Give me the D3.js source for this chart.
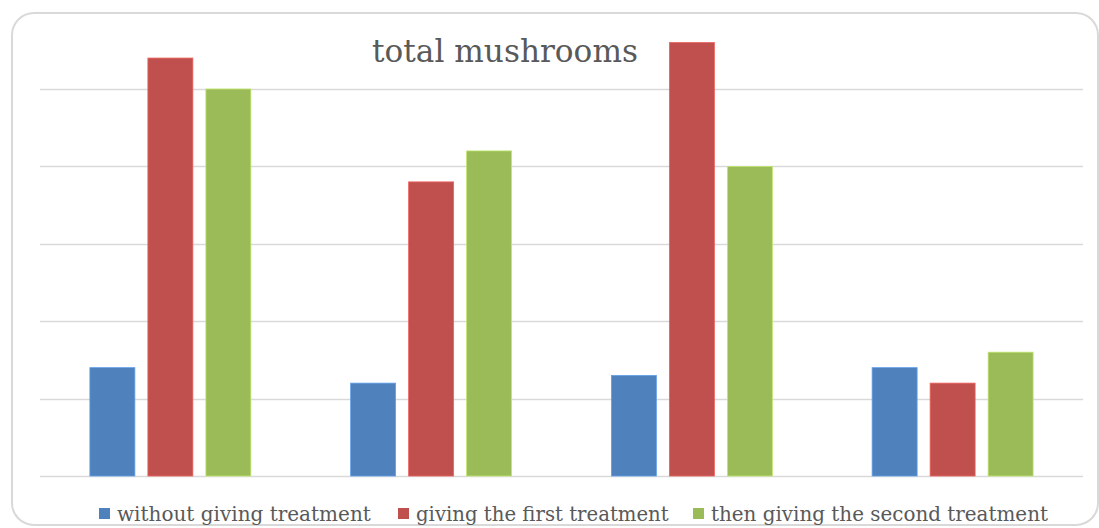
<!DOCTYPE html>
<html><head><meta charset="utf-8">
<script src="https://cdn.jsdelivr.net/npm/d3@7"></script>
<style>html,body{margin:0;padding:0;background:#fff;}svg{display:block;}</style>
</head><body>
<svg id="chart" width="1099" height="528"></svg>
<script>
const title = "total mushrooms";
const categories = ["A", "B", "C", "D"];
const seriesNames = ["without giving treatment", "giving the first treatment", "then giving the second treatment"];
const seriesColors = ["#4F81BD", "#C0504D", "#9BBB59"];
const withoutTreatment = [1.4, 1.2, 1.3, 1.4];
const firstTreatment = [5.4, 3.8, 5.6, 1.2];
const secondTreatment = [5.0, 4.2, 4.0, 1.6];
const gridTicks = [0, 1, 2, 3, 4, 5];

const series = [withoutTreatment, firstTreatment, secondTreatment];
const svg = d3.select("#chart");
const serif = "DejaVu Serif, Liberation Serif, serif";

// fit a text element's font size to a target width
function fitWidth(sel, target) {
  const w = sel.node().getComputedTextLength();
  const fs = parseFloat(sel.attr("font-size"));
  sel.attr("font-size", (fs * target / w).toFixed(2));
}

svg.append("rect").attr("x", 12).attr("y", 13).attr("width", 1098 - 12).attr("height", 525 - 13)
  .attr("rx", 22).attr("fill", "#fff").attr("stroke", "#d9d9d9").attr("stroke-width", 2);

const plotL = 40, plotR = 1083;
const x0 = d3.scaleBand().domain(categories).range([plotL, plotR]).paddingInner(0).paddingOuter(0);
const y = d3.scaleLinear().domain([0, 5]).range([476, 89]);

svg.append("g").selectAll("line").data(gridTicks).join("line")
  .attr("x1", plotL).attr("x2", plotR)
  .attr("y1", d => Math.round(y(d)) + 0.5).attr("y2", d => Math.round(y(d)) + 0.5)
  .attr("stroke", "#d9d9d9").attr("stroke-width", 1.5);

const barW = 45, gap = 13;
const groupW = 3 * barW + 2 * gap;
const x1 = d3.scaleBand().domain(d3.range(3)).range([0, groupW]).paddingInner(gap / (barW + gap)).paddingOuter(0);

const g = svg.append("g");
categories.forEach((c, ci) => {
  const gx = x0(c) + (x0.bandwidth() - groupW) / 2;
  series.forEach((s, si) => {
    g.append("rect")
      .attr("x", gx + x1(si)).attr("width", x1.bandwidth())
      .attr("y", y(s[ci])).attr("height", y(0) - y(s[ci]))
      .attr("fill", seriesColors[si])
      .attr("stroke", d3.color(seriesColors[si]).brighter(0.6)).attr("stroke-width", 0.8);
  });
});

const t = svg.append("text").attr("x", 505).attr("y", 62).attr("text-anchor", "middle")
  .attr("font-family", serif).attr("font-size", 30)
  .attr("fill", "#595959").text(title);
fitWidth(t, 266);

const legendX = [99, 398, 693];
const legendW = [254, 253, 337];
const lg = svg.append("g");
seriesNames.forEach((n, i) => {
  lg.append("rect").attr("x", legendX[i]).attr("y", 508).attr("width", 11).attr("height", 11).attr("fill", seriesColors[i]);
  const tx = lg.append("text").attr("x", legendX[i] + 18).attr("y", 521)
    .attr("font-family", serif).attr("font-size", 20)
    .attr("fill", "#595959").text(n);
  fitWidth(tx, legendW[i]);
});
</script>
</body></html>
